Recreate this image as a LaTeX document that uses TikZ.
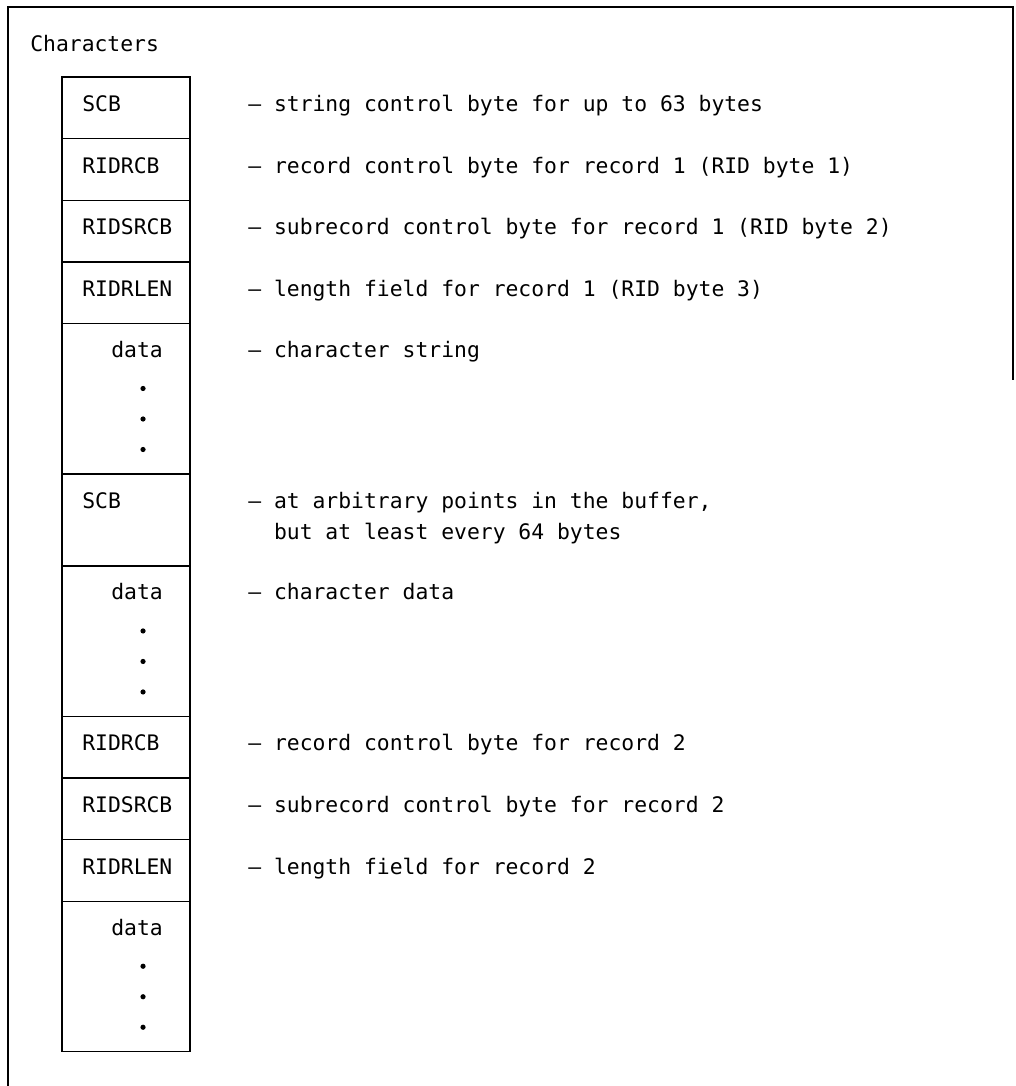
\documentclass[tikz,border=0pt]{standalone}
\usepackage{fontspec}
\newfontfamily\figfont{DejaVu Sans Mono}
\usetikzlibrary{positioning}

\begin{document}
\begin{tikzpicture}[x=0.025cm, y=-0.025cm, every node/.style={font=\figfont\fontsize{15.2pt}{18pt}\selectfont, text height=1.5ex, text depth=0.25ex, inner sep=0pt},
  cell/.style={draw, line width=1pt, minimum width=3.2cm, minimum height=1.54cm, inner sep=0pt, outer sep=0pt},
  tall/.style={cell, minimum height=3.76cm},
  lbl/.style={anchor=west},
  desc/.style={anchor=west}]
	\useasboundingbox (0,0) rectangle (1015,1086);
	% outer frame (open at the bottom)
	\draw[line width=0.9pt] (8,1086) -- (8,7) -- (1013,7) -- (1013,380);
	\node[anchor=west] (title) at (30,48) {Characters};
	% buffer column
	\node[cell, anchor=north west] (scb1) at (62,77) {};
	\node[cell, below=0pt of scb1] (rcb1) {};
	\node[cell, below=0pt of rcb1] (srcb1) {};
	\node[cell, below=0pt of srcb1] (len1) {};
	\node[tall, below=0pt of len1] (data1) {};
	\node[cell, minimum height=2.3cm, below=0pt of data1] (scb2) {};
	\node[tall, below=0pt of scb2] (data2) {};
	\node[cell, below=0pt of data2] (rcb2) {};
	\node[cell, below=0pt of rcb2] (srcb2) {};
	\node[cell, below=0pt of srcb2] (len2) {};
	\node[tall, below=0pt of len2] (data3) {};
	% field labels
	\node[lbl] (scb1l) at ([xshift=0.5cm]scb1.west) {SCB};
	\node[lbl] (rcb1l) at ([xshift=0.5cm]rcb1.west) {RIDRCB};
	\node[lbl] (srcb1l) at ([xshift=0.5cm]srcb1.west) {RIDSRCB};
	\node[lbl] (len1l) at ([xshift=0.5cm]len1.west) {RIDRLEN};
	\node[lbl] (scb2l) at ([xshift=0.5cm, yshift=-0.775cm]scb2.north west) {SCB};
	\node[lbl] (rcb2l) at ([xshift=0.5cm]rcb2.west) {RIDRCB};
	\node[lbl] (srcb2l) at ([xshift=0.5cm]srcb2.west) {RIDSRCB};
	\node[lbl] (len2l) at ([xshift=0.5cm]len2.west) {RIDRLEN};
	\foreach \d in {data1, data2, data3} {
		\node[lbl] (\d l) at ([xshift=1.225cm, yshift=-0.75cm]\d.north west) {data};
		\foreach \k in {1,2,3} {\fill ([xshift=0.15cm, yshift={-0.1125cm-\k*0.7625cm}]\d l.center) circle (0.065cm);}
	}
	% descriptions
	\coordinate (col) at (248,0);
	\node[desc] (scb1d) at (scb1l -| col) {– string control byte for up to 63 bytes};
	\node[desc] (rcb1d) at (rcb1l -| col) {– record control byte for record 1 (RID byte 1)};
	\node[desc] (srcb1d) at (srcb1l -| col) {– subrecord control byte for record 1 (RID byte 2)};
	\node[desc] (len1d) at (len1l -| col) {– length field for record 1 (RID byte 3)};
	\node[desc] (data1d) at (data1l -| col) {– character string};
	\node[desc] (scb2d) at (scb2l -| col) {– at arbitrary points in the buffer,};
	\node[desc] (scb2e) at ([yshift=-0.775cm]scb2d.west) {\phantom{– }but at least every 64 bytes};
	\node[desc] (data2d) at (data2l -| col) {– character data};
	\node[desc] (rcb2d) at (rcb2l -| col) {– record control byte for record 2};
	\node[desc] (srcb2d) at (srcb2l -| col) {– subrecord control byte for record 2};
	\node[desc] (len2d) at (len2l -| col) {– length field for record 2};
\end{tikzpicture}
\end{document}
